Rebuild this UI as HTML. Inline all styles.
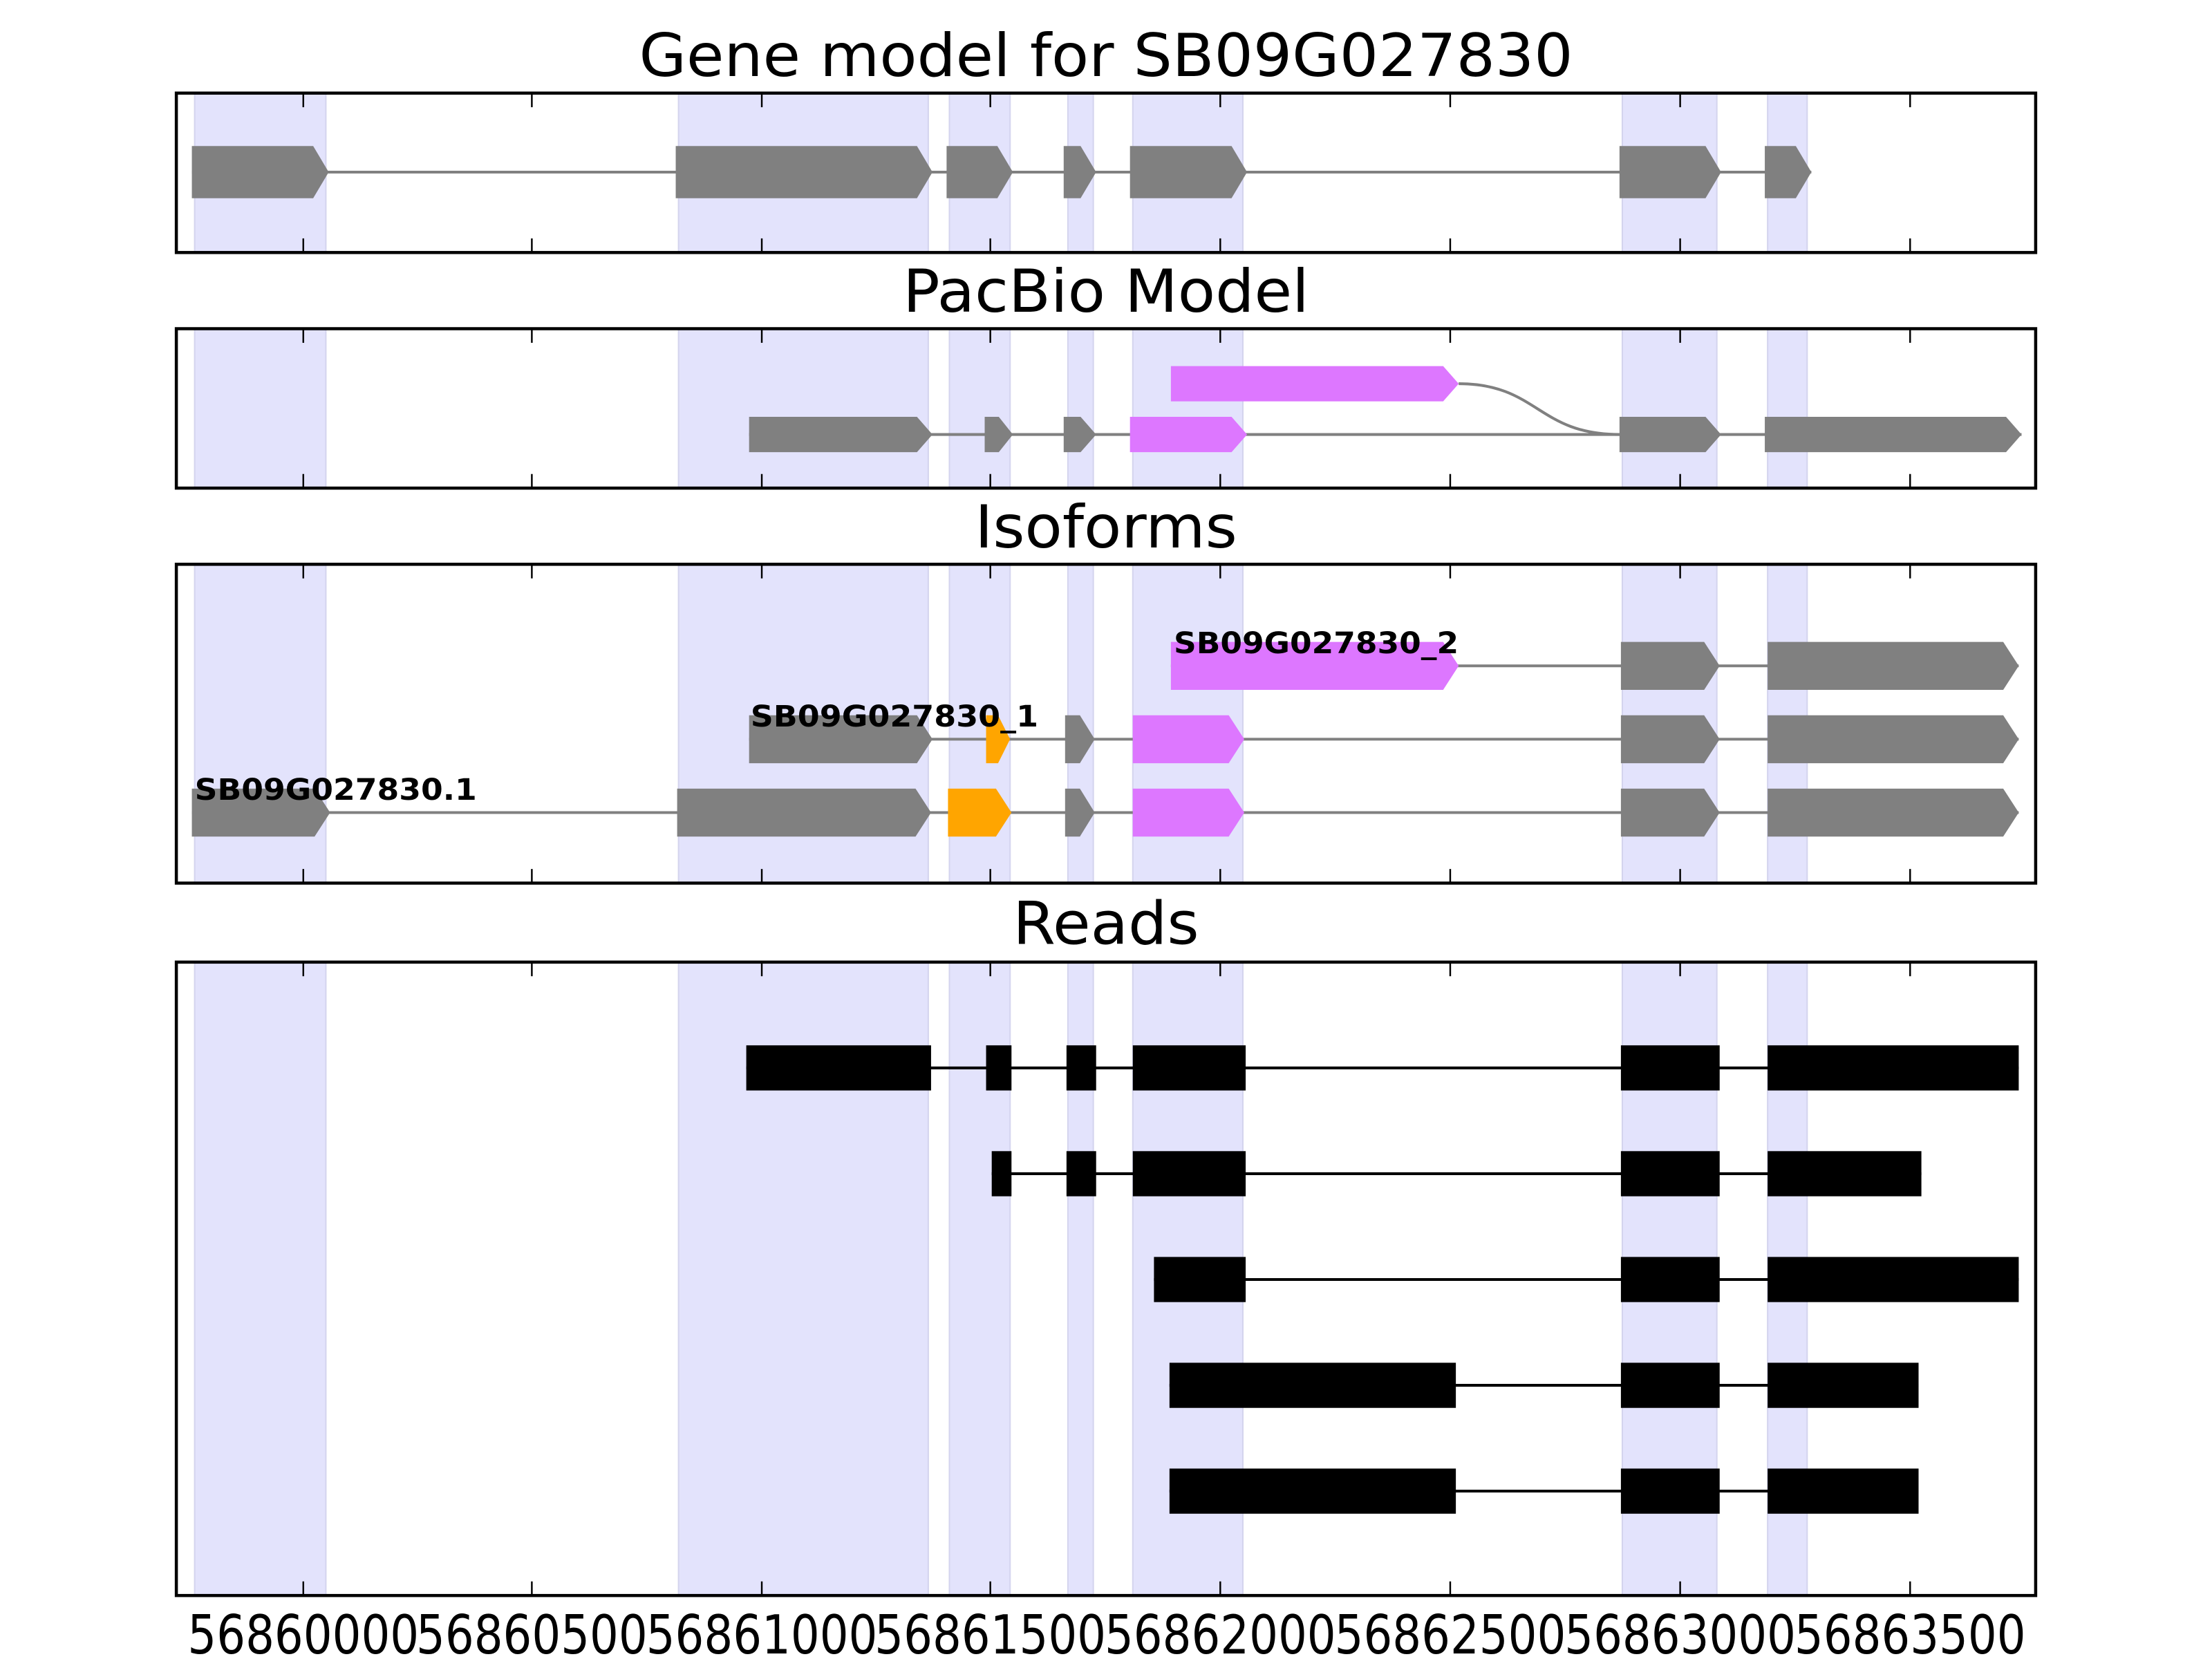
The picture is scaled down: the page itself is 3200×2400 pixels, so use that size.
<!DOCTYPE html>
<html><head><meta charset="utf-8"><style>
html,body{margin:0;padding:0;background:#fff;}
svg{display:block;}
text{font-family:"DejaVu Sans","Liberation Sans",sans-serif;}
</style></head><body>
<svg id="s" width="3200" height="2400" viewBox="0 0 1568 1176" xmlns="http://www.w3.org/2000/svg">
<g id="bg"></g>
<g id="fg"></g>
<text x="784" y="54" font-size="42" text-anchor="middle" textLength="662" lengthAdjust="spacingAndGlyphs">Gene model for SB09G027830</text>
<text x="784" y="221" font-size="42" text-anchor="middle" textLength="288" lengthAdjust="spacingAndGlyphs">PacBio Model</text>
<text x="784" y="388" font-size="42" text-anchor="middle" textLength="186" lengthAdjust="spacingAndGlyphs">Isoforms</text>
<text x="784" y="669" font-size="42" text-anchor="middle" textLength="132" lengthAdjust="spacingAndGlyphs">Reads</text>
<text x="832" y="463" font-size="21" font-weight="bold" textLength="202" lengthAdjust="spacingAndGlyphs">SB09G027830_2</text>
<text x="532" y="515" font-size="21" font-weight="bold" textLength="204" lengthAdjust="spacingAndGlyphs">SB09G027830_1</text>
<text x="138" y="567" font-size="21" font-weight="bold" textLength="200" lengthAdjust="spacingAndGlyphs">SB09G027830.1</text>
<g font-size="38" text-anchor="middle">
<text x="215" y="1172" textLength="164" lengthAdjust="spacingAndGlyphs">56860000</text>
<text x="377" y="1172" textLength="164" lengthAdjust="spacingAndGlyphs">56860500</text>
<text x="540" y="1172" textLength="164" lengthAdjust="spacingAndGlyphs">56861000</text>
<text x="702" y="1172" textLength="164" lengthAdjust="spacingAndGlyphs">56861500</text>
<text x="865" y="1172" textLength="164" lengthAdjust="spacingAndGlyphs">56862000</text>
<text x="1028" y="1172" textLength="164" lengthAdjust="spacingAndGlyphs">56862500</text>
<text x="1191" y="1172" textLength="164" lengthAdjust="spacingAndGlyphs">56863000</text>
<text x="1354" y="1172" textLength="164" lengthAdjust="spacingAndGlyphs">56863500</text>
</g>
</svg>
<script>
var NS="http://www.w3.org/2000/svg",bg=document.getElementById('bg'),fg=document.getElementById('fg');
function el(p,t,a){var e=document.createElementNS(NS,t);for(var k in a)e.setAttribute(k,a[k]);p.appendChild(e);return e;}
var panels=[[66,179],[233,346],[400,626],[682,1131]];
var shade=[[138,231],[481,658],[673,716],[757,775],[803,881],[1150,1217],[1253,1281]];
var ticks=[215,377,540,702,865,1028,1191,1354];
panels.forEach(function(p){
 shade.forEach(function(s){el(bg,'rect',{x:s[0],y:p[0],width:s[1]-s[0],height:p[1]-p[0],fill:'#e3e3fc',stroke:'#d4d4ee','stroke-width':1});});
 ticks.forEach(function(t){el(bg,'line',{x1:t,x2:t,y1:p[0],y2:p[0]+10,stroke:'#000','stroke-width':1.2});el(bg,'line',{x1:t,x2:t,y1:p[1],y2:p[1]-10,stroke:'#000','stroke-width':1.2});});
 el(fg,'rect',{x:125,y:p[0],width:1318,height:p[1]-p[0],fill:'none',stroke:'#000','stroke-width':2.2});
});
function line(x1,x2,y,c,w){el(bg,'line',{x1:x1,x2:x2,y1:y,y2:y,stroke:c,'stroke-width':w||2});}
function arr(x1,x2,y,h,c){var t=Math.min(11,(x2-x1)*0.5);var pts=[[x1,y-h/2],[x2-t,y-h/2],[x2,y],[x2-t,y+h/2],[x1,y+h/2]];el(bg,'polygon',{points:pts.map(function(q){return q.join(',')}).join(' '),fill:c});}
var G='#808080',M='#dd77ff',O='#ffa500';
function row(y,h,ex){line(ex[0][0],ex[ex.length-1][1],y,G,2);ex.forEach(function(e){arr(e[0],e[1],y,h,e[2]||G);});}
row(122,37,[[136,233],[479,661],[671,718],[754,777],[801,884],[1148,1220],[1251,1284]]);
el(bg,'path',{d:'M1034,272 C1090,272 1090,308 1148,308',fill:'none',stroke:G,'stroke-width':2});
arr(830,1034,272,25,M);
row(308,25,[[531,661],[698,718],[754,777],[801,884,M],[1148,1220],[1251,1433]]);
row(472,34,[[830,1034,M],[1149,1219],[1253,1431]]);
row(524,34,[[531,661],[699,716,O],[755,776],[803,882,M],[1149,1219],[1253,1431]]);
row(576,34,[[136,234],[480,660],[672,717,O],[755,776],[803,882,M],[1149,1219],[1253,1431]]);
function read(y,ex){line(ex[0][0],ex[ex.length-1][1],y,'#000',2);ex.forEach(function(e){el(bg,'rect',{x:e[0],y:y-16,width:e[1]-e[0],height:32,fill:'#000'});});}
read(757,[[529,660],[699,717],[756,777],[803,883],[1149,1219],[1253,1431]]);
read(832,[[703,717],[756,777],[803,883],[1149,1219],[1253,1362]]);
read(907,[[818,883],[1149,1219],[1253,1431]]);
read(982,[[829,1032],[1149,1219],[1253,1360]]);
read(1057,[[829,1032],[1149,1219],[1253,1360]]);
</script>
</body></html>
